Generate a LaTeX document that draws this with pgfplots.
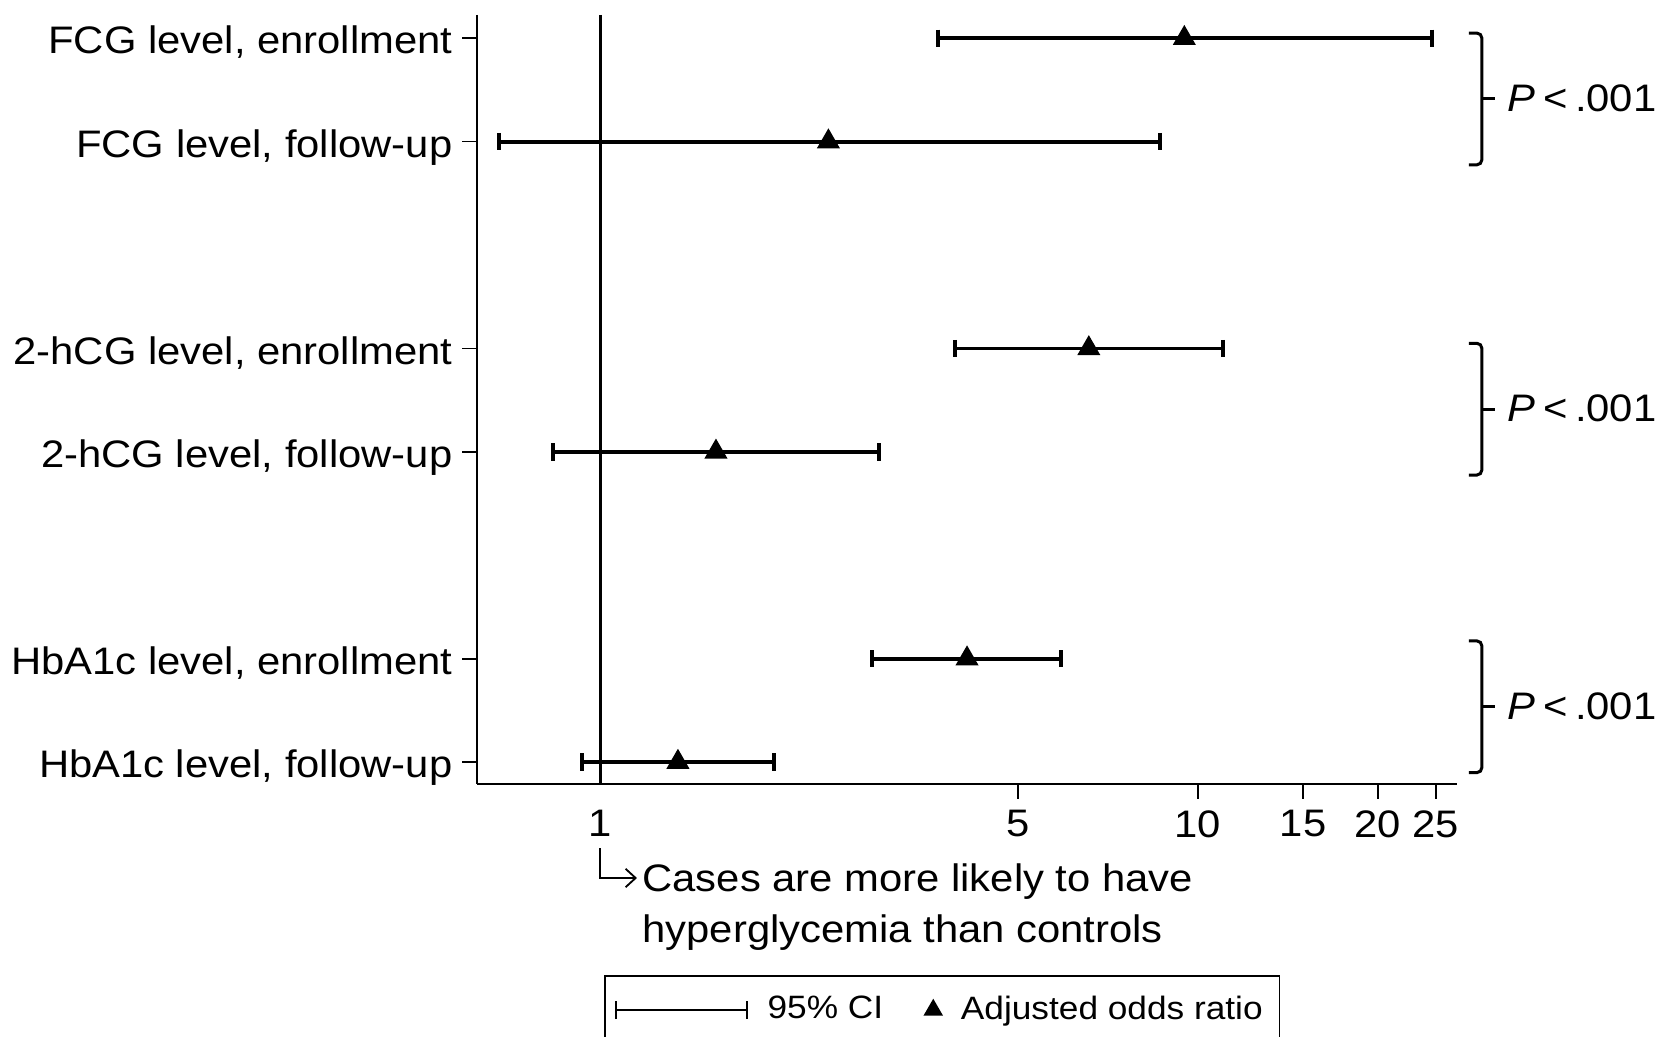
\documentclass[border=0pt]{standalone}
\usepackage{fontspec}
\setmainfont{Liberation Sans}[FakeStretch=1.09]
\usepackage{pgfplots}
\pgfplotsset{compat=1.18}
\usetikzlibrary{arrows.meta}
\begin{document}
\begin{tikzpicture}
\useasboundingbox (0,0) rectangle (498.3pt,310.8pt);
\begin{axis}[
  scale only axis, width=293.97pt, height=230.7pt,
  at={(143.01pt,75.6pt)}, anchor=south west,
  xmode=log, xmin=0.622, xmax=27.08,
  ymin=-0.225, ymax=7.212, y dir=reverse,
  axis x line*=bottom, axis y line*=left,
  axis line style={line width=0.5pt, black},
  xtick={5,10,15,20,25}, xticklabels={5,10,15,20,25},
  extra x ticks={1}, extra x tick labels={1},
  extra x tick style={tick style={draw=none}},
  xminorticks=false, yminorticks=false,
  ytick={0,1,3,4,6,7},
  yticklabels={{FCG level, enrollment},{FCG level, follow-up},{2-hCG level, enrollment},{2-hCG level, follow-up},{HbA1c level, enrollment},{HbA1c level, follow-up}},
  tick align=outside, major tick length=4.4pt,
  tick style={line width=0.5pt, black},
  ticklabel style={font=\fontsize{11.5}{13.8}\selectfont},
  yticklabel style={anchor=base east, yshift=-4.7pt, inner xsep=2.7pt},
  /pgf/number format/assume math mode=true,
  clip=false,
  legend style={at={(0.1299,-0.2484)}, anchor=north west, draw=black, line width=0.5pt,
    legend columns=2, font=\fontsize{9.7}{11.6}\selectfont,
    inner xsep=3pt, inner ysep=4pt,
    /tikz/every odd column/.append style={column sep=3.8pt},
    /tikz/every even column/.append style={column sep=10.5pt}},
  legend cell align=left,
  ci/.style={line width=1.15pt, black, mark=|, mark size=2.6pt, mark options={line width=1.15pt, solid}, forget plot},
]
% reference line at OR = 1
\addplot[line width=0.9pt, black, forget plot] coordinates {(1,-0.225) (1,7.212)};
% 95% CIs
\addplot[ci] coordinates {(3.68,0) (24.6,0)};
\addplot[ci] coordinates {(0.678,1) (8.64,1)};
\addplot[ci] coordinates {(3.93,3) (11.03,3)};
\addplot[ci] coordinates {(0.835,4) (2.93,4)};
\addplot[ci] coordinates {(2.85,6) (5.91,6)};
\addplot[ci] coordinates {(0.932,7) (1.956,7)};
% adjusted odds ratios
\addplot[only marks, mark=triangle*, mark size=3.6pt, black, forget plot] coordinates {
  (9.49,0) (2.41,1) (6.57,3) (1.563,4) (4.11,6) (1.35,7)};
% legend
\addlegendimage{legend image code/.code={
  \draw[line width=0.75pt] (0pt,0pt) -- (39.3pt,0pt);
  \draw[line width=0.75pt] (0pt,-2.7pt) -- (0pt,2.7pt);
  \draw[line width=0.75pt] (39.3pt,-2.7pt) -- (39.3pt,2.7pt);}}
\addlegendentry{95\% CI}
\addlegendimage{legend image code/.code={
  \draw[black, fill=black] plot[only marks, mark=triangle*, mark size=2.9pt] coordinates {(0pt,0pt)};}}
\addlegendentry{Adjusted odds ratio}
% brackets with P values
\draw[line width=0.9pt, rounded corners=1.5pt] (axis cs:28.38,-0.05) -- (axis cs:29.85,-0.05) -- (axis cs:29.85,1.224) -- (axis cs:28.38,1.224);
\draw[line width=0.9pt] (axis cs:29.85,0.587) -- (axis cs:31.38,0.587);
\node[anchor=base west, inner sep=0pt, font=\fontsize{11.5}{13.8}\selectfont] at (axis cs:32.86,0.71) {\textit{P}\hspace{0.2em}<\hspace{0.2em}.001};
\draw[line width=0.9pt, rounded corners=1.5pt] (axis cs:28.38,2.95) -- (axis cs:29.85,2.95) -- (axis cs:29.85,4.224) -- (axis cs:28.38,4.224);
\draw[line width=0.9pt] (axis cs:29.85,3.587) -- (axis cs:31.38,3.587);
\node[anchor=base west, inner sep=0pt, font=\fontsize{11.5}{13.8}\selectfont] at (axis cs:32.86,3.71) {\textit{P}\hspace{0.2em}<\hspace{0.2em}.001};
\draw[line width=0.9pt, rounded corners=1.5pt] (axis cs:28.38,5.828) -- (axis cs:29.85,5.828) -- (axis cs:29.85,7.102) -- (axis cs:28.38,7.102);
\draw[line width=0.9pt] (axis cs:29.85,6.465) -- (axis cs:31.38,6.465);
\node[anchor=base west, inner sep=0pt, font=\fontsize{11.5}{13.8}\selectfont] at (axis cs:32.86,6.588) {\textit{P}\hspace{0.2em}<\hspace{0.2em}.001};
% annotation below the axis
\draw[line width=0.55pt, -{Straight Barb[length=3pt,width=5.5pt]}] (axis cs:1,7.831) -- (axis cs:1,8.121) -- (axis cs:1.153,8.121);
\node[anchor=base west, inner sep=0pt, font=\fontsize{11.5}{13.8}\selectfont] at (axis cs:1.175,8.256) {Cases are more likely to have};
\node[anchor=base west, inner sep=0pt, font=\fontsize{11.5}{13.8}\selectfont] at (axis cs:1.175,8.749) {hyperglycemia than controls};
\end{axis}
\end{tikzpicture}
\end{document}
